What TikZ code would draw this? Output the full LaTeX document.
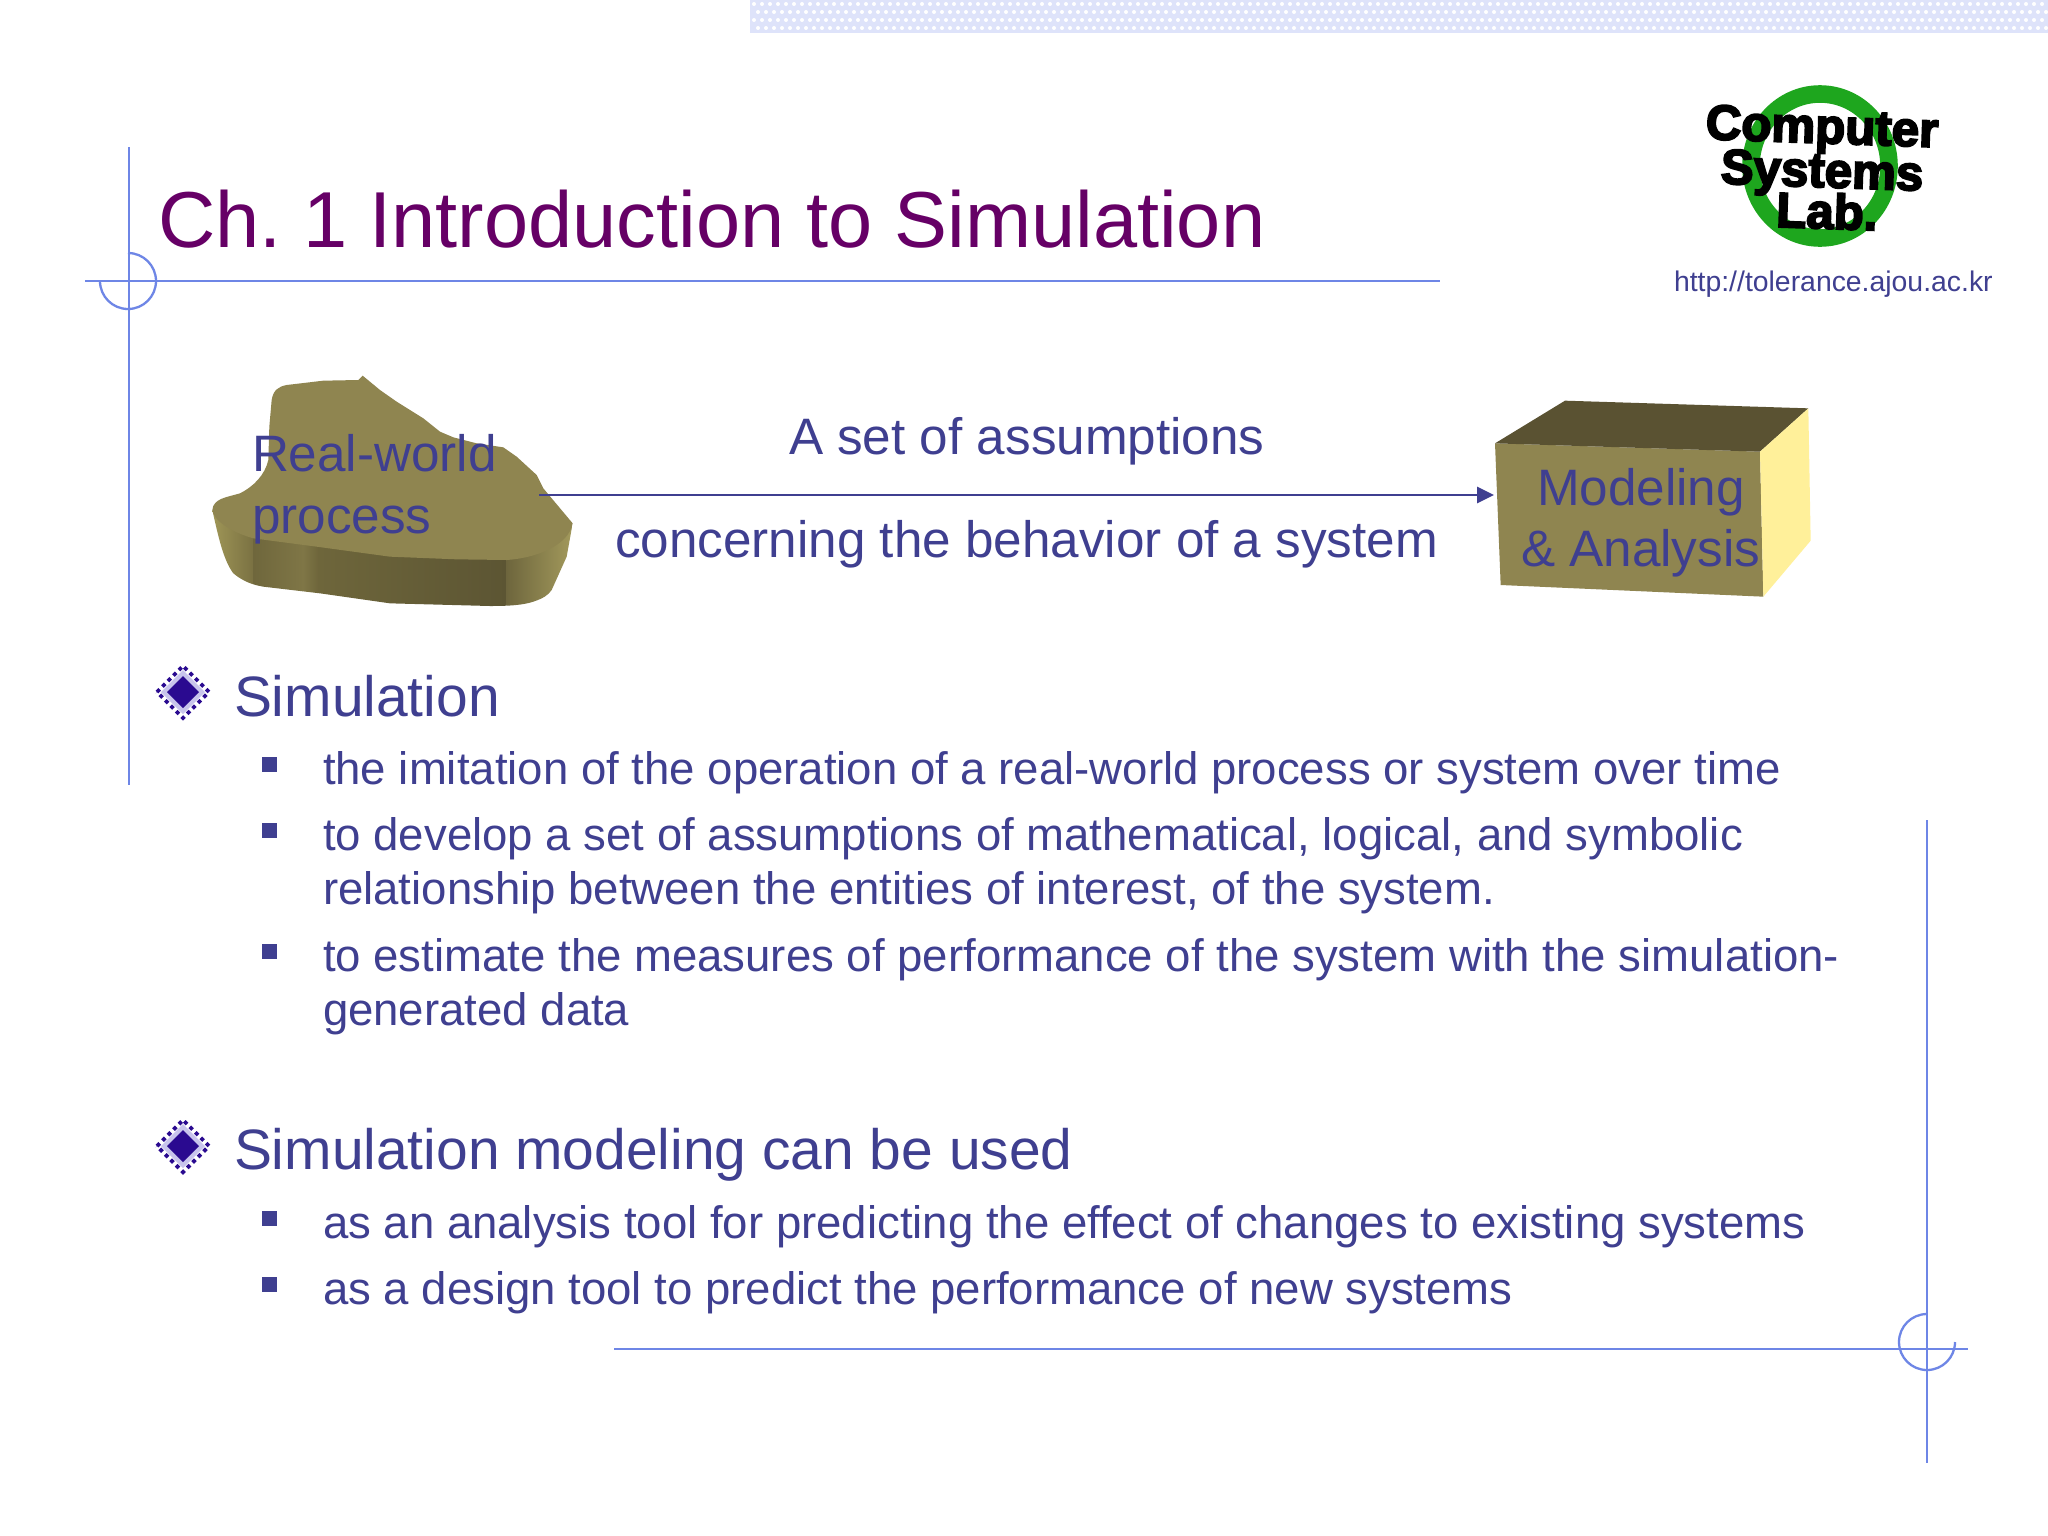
\documentclass[tikz,border=0pt]{standalone}
\usepackage{fontspec}
\setmainfont{Liberation Sans}
\newfontfamily\logofont[FakeBold=4]{Liberation Sans Bold}
\usetikzlibrary{arrows.meta}
\frenchspacing
\definecolor{ink}{HTML}{3F3F90}
\definecolor{framecol}{HTML}{6E86E6}
\definecolor{titlecol}{HTML}{660066}
\definecolor{sandtop}{HTML}{8F8550}
\definecolor{sanddark}{HTML}{5A5232}
\definecolor{sandlight}{HTML}{FFF09A}
\definecolor{logogreen}{HTML}{1EA61E}
\definecolor{diamondcol}{HTML}{2A0A90}
\definecolor{diamondpale}{HTML}{C8C4EC}
\definecolor{patcol}{HTML}{DEE3FA}
\newcommand{\pxfont}[1]{\fontsize{#1}{#1}\selectfont}
\tikzset{
  x=0.01cm,y=-0.01cm,
  txt/.style={inner sep=0pt,outer sep=0pt,anchor=base west,text=ink},
  titletxt/.style={txt,text=titlecol,font=\pxfont{22.57pt}},
  headtxt/.style={txt,font=\pxfont{16.19pt}},
  subtxt/.style={txt,font=\pxfont{12.95pt}},
  figtxt/.style={txt,font=\pxfont{14.57pt}},
  urltxt/.style={txt,font=\pxfont{8.07pt}},
  logotxt/.style={inner sep=0pt,anchor=center,text=black},
  frameline/.style={draw=framecol,line width=0.65pt},
  pics/diamondbullet/.style={code={
    \fill[diamondpale] (-22,0)--(0,-22)--(22,0)--(0,22)--cycle;
    \fill[diamondcol] (-16,0)--(0,-16)--(16,0)--(0,16)--cycle;
    \draw[diamondcol,line width=1.1pt,dash pattern=on 1.1pt off 1.1pt] (-26,0)--(0,-26)--(26,0)--(0,26)--cycle;
  }},
}
\begin{document}
\begin{tikzpicture}
\useasboundingbox (0,0) rectangle (2048,1536);
\fill[white] (0,0) rectangle (2048,1536);
% top pattern band
\fill[patcol] (750,0) rectangle (2048,33);
\foreach \r in {0,...,3}{
  \foreach \c in {0,...,161}{
    \fill[white] ({754+\c*8+mod(\r,2)*4},{4+\r*8}) circle (2);
  }
}
% frame
\draw[frameline] (129,147) -- (129,785);
\draw[frameline] (85,281) -- (1440,281);
\draw[frameline] (128,253) arc[start angle=-90,end angle=180,x radius=28,y radius=28];
\draw[frameline] (1927,820) -- (1927,1463);
\draw[frameline] (614,1349) -- (1968,1349);
\draw[frameline] (1927,1314) arc[start angle=270,end angle=0,x radius=28,y radius=28];
% title
\node[titletxt] (title) at (158,247) {Ch. 1 Introduction to Simulation};
% logo
\draw[logogreen,line width=5pt] (1820,166) ellipse [x radius=69,y radius=72];
\node[logotxt,rotate=-2] (lg1) at (1822,131) {\logofont\pxfont{14pt}Computer};
\node[logotxt,rotate=-2] (lg2) at (1822,175) {\logofont\pxfont{14pt}Systems};
\node[logotxt,rotate=-2] (lg3) at (1827,211) {\logofont\pxfont{14pt}Lab.};
\node[urltxt] (url) at (1674,291) {http://tolerance.ajou.ac.kr};
% blob
\begin{scope}[shift={(190,360)},x=0.01cm/3,y=-0.01cm/3]
  \begin{scope}
    \clip (67,450) .. controls (85,530) and (100,600) .. (130,640)
      .. controls (160,665) and (190,675) .. (220,680) -- (390,700) -- (600,730) -- (900,738)
      .. controls (960,738) and (1000,735) .. (1030,725) .. controls (1060,715) and (1075,705) .. (1085,690)
      -- (1130,590) -- (1148,490) -- (800,450) -- cycle;
    \definecolor{sa}{HTML}{A19858}\definecolor{sb}{HTML}{7A7142}
    \definecolor{sc}{HTML}{6F673C}\definecolor{sd}{HTML}{7F7646}
    \definecolor{se}{HTML}{6E663B}\definecolor{sf}{HTML}{5C5533}
    \definecolor{sg}{HTML}{6E663D}\definecolor{sh}{HTML}{A39A5C}
    \shade[left color=sa,right color=sb] (60,430) rectangle (190,745);
    \shade[left color=sc,right color=sd] (190,430) rectangle (340,745);
    \shade[left color=sd,right color=se] (340,430) rectangle (385,745);
    \shade[left color=se,right color=sf] (385,430) rectangle (950,745);
    \shade[left color=sg,right color=sh] (950,430) rectangle (1150,745);
  \end{scope}
  \fill[sandtop] (518,47) -- (505,60) -- (400,62) -- (290,75)
    .. controls (265,80) and (250,90) .. (245,120) -- (238,200) -- (235,300)
    .. controls (225,345) and (190,380) .. (150,400) .. controls (110,412) and (70,415) .. (67,450)
    .. controls (70,480) and (120,515) .. (190,535) -- (380,560) -- (600,590) -- (800,598) -- (950,600)
    .. controls (1030,595) and (1135,560) .. (1148,490)
    -- (1060,385) -- (1040,345) -- (980,290) -- (940,262) -- (860,250) -- (790,232) -- (750,215) -- (700,175) -- (620,125) -- (570,90) -- cycle;
\end{scope}
\node[figtxt] (rw1) at (252,471) {Real-world};
\node[figtxt] (rw2) at (252,533) {process};
% box
\begin{scope}[shift={(1460,380)},x=0.01cm/3,y=-0.01cm/3]
  \fill[sandtop] (105,190) -- (900,215) -- (910,650) -- (122,615) -- cycle;
  \fill[sanddark] (105,190) -- (315,62) -- (1045,85) -- (900,215) -- cycle;
  \fill[sandlight] (900,215) -- (1045,85) -- (1052,482) -- (910,650) -- cycle;
\end{scope}
\node[figtxt] (m1) at (1537,505) {Modeling};
\node[figtxt] (m2) at (1521,566) {\& Analysis};
% arrow
\coordinate (blobedge) at (539,495);
\coordinate (boxedge) at (1494,495);
\draw[ink,line width=0.5pt,-{Triangle[length=4.8pt,width=4.6pt]}] (blobedge) -- (boxedge);
\node[figtxt] (a1) at (789,454.5) {A set of assumptions};
\node[figtxt] (a2) at (615,557) {concerning the behavior of a system};
% text
\pic at (183,692) {diamondbullet};
\pic at (183,1146) {diamondbullet};
\node[headtxt] (h1) at (234,716) {Simulation};
\node[headtxt] (h2) at (234,1169) {Simulation modeling can be used};
\foreach \y in {785,851,972,1239,1305}{
  \fill[ink] (262,\y-28) rectangle (277,\y-13);
}
\node[subtxt] (s1) at (323,784) {the imitation of the operation of a real-world process or system over time};
\node[subtxt] (s2) at (323,850) {to develop a set of assumptions of mathematical, logical, and symbolic};
\node[subtxt] (s3) at (323,904) {relationship between the entities of interest, of the system.};
\node[subtxt] (s4) at (323,971) {to estimate the measures of performance of the system with the simulation-};
\node[subtxt] (s5) at (323,1025) {generated data};
\node[subtxt] (s6) at (323,1238) {as an analysis tool for predicting the effect of changes to existing systems};
\node[subtxt] (s7) at (323,1304) {as a design tool to predict the performance of new systems};
\end{tikzpicture}
\end{document}
